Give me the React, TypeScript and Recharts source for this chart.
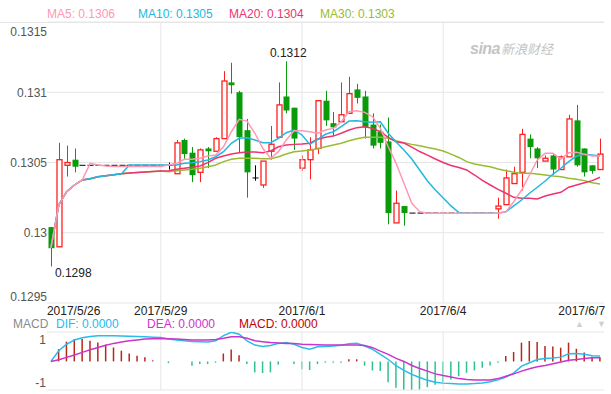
import { ComposedChart, Bar, Line, XAxis, YAxis, CartesianGrid, ReferenceLine, ReferenceDot, Cell } from 'recharts'

const FONT = '"Liberation Sans", Arial, sans-serif'
const GRID = '#e6e6e6'
const UP = '#ff1f1f'
const DOWN = '#0a9b0a'

// 4-hour candles, 2017/5/26 16:00 .. 2017/6/7 08:00
const opens = [
  0.13004, 0.1299, 0.13048, 0.13052, 0.13048, 0.13048, 0.13048, 0.13048, 0.13048, 0.13048,
  0.13048, 0.13048, 0.13048, 0.13048, 0.13048, 0.13048, 0.13042, 0.13066, 0.13057, 0.13043,
  0.1306, 0.13058, 0.13067, 0.13107, 0.131, 0.13073, 0.13039, 0.13034, 0.13058, 0.13068,
  0.13097, 0.13089, 0.13046, 0.13052, 0.1306, 0.13094, 0.13078, 0.13079, 0.13085, 0.13102,
  0.13097, 0.13077, 0.13072, 0.13065, 0.13007, 0.13019, 0.13014, 0.13014, 0.13014, 0.13014,
  0.13014, 0.13014, 0.13014, 0.13014, 0.13014, 0.13014, 0.13014, 0.13017, 0.1302, 0.13035,
  0.13043, 0.13067, 0.1306, 0.13051, 0.13055, 0.13045, 0.13054, 0.1308, 0.1306, 0.13048,
  0.13045,
]
const highs = [
  0.13004, 0.13064, 0.13062, 0.1306, 0.13048, 0.13048, 0.13048, 0.13048, 0.13048, 0.13048,
  0.13048, 0.13048, 0.13048, 0.13048, 0.13048, 0.1305, 0.13066, 0.13067, 0.13061, 0.1306,
  0.13061, 0.13068, 0.13115, 0.13121, 0.13101, 0.13081, 0.13048, 0.13051, 0.13076, 0.13107,
  0.13122, 0.13089, 0.13055, 0.13068, 0.13094, 0.13101, 0.13086, 0.13107, 0.13111, 0.13106,
  0.13101, 0.13085, 0.13077, 0.13082, 0.1303, 0.13019, 0.13014, 0.13014, 0.13014, 0.13014,
  0.13014, 0.13014, 0.13014, 0.13014, 0.13014, 0.13014, 0.13014, 0.13025, 0.13045, 0.13047,
  0.13074, 0.1307, 0.13061, 0.13055, 0.13056, 0.13055, 0.13084, 0.13091, 0.1306, 0.13048,
  0.13067,
]
const lows = [
  0.12976, 0.1299, 0.1304, 0.13043, 0.13048, 0.13048, 0.13048, 0.13048, 0.13048, 0.13048,
  0.13048, 0.13048, 0.13048, 0.13048, 0.13048, 0.13045, 0.13042, 0.13052, 0.13036, 0.13036,
  0.13046, 0.13058, 0.13067, 0.13099, 0.13057, 0.13025, 0.13037, 0.13032, 0.13052, 0.13068,
  0.13085, 0.13059, 0.13044, 0.13038, 0.13056, 0.13076, 0.13069, 0.13079, 0.13085, 0.13092,
  0.13067, 0.1306, 0.1306, 0.13006, 0.13007, 0.13005, 0.13014, 0.13014, 0.13014, 0.13014,
  0.13014, 0.13014, 0.13014, 0.13014, 0.13014, 0.13014, 0.13014, 0.1301, 0.1302, 0.13035,
  0.1303, 0.13053, 0.13046, 0.13051, 0.13041, 0.13045, 0.13054, 0.13047, 0.1304, 0.13042,
  0.13045,
]
const closes = [
  0.12989, 0.13052, 0.1305, 0.13047, 0.13048, 0.13048, 0.13048, 0.13048, 0.13048, 0.13048,
  0.13048, 0.13048, 0.13048, 0.13048, 0.13048, 0.13048, 0.13064, 0.13056, 0.13041, 0.13059,
  0.13058, 0.13067, 0.13108, 0.13105, 0.13068, 0.13043, 0.13039, 0.13051, 0.13063, 0.13091,
  0.13087, 0.13067, 0.13052, 0.13059, 0.13094, 0.1308, 0.13075, 0.13084, 0.13099, 0.13096,
  0.13075, 0.13062, 0.13064, 0.13014, 0.13021, 0.13014, 0.13014, 0.13014, 0.13014, 0.13014,
  0.13014, 0.13014, 0.13014, 0.13014, 0.13014, 0.13014, 0.13014, 0.13019, 0.13039, 0.13042,
  0.1307, 0.13061, 0.13053, 0.13053, 0.13045, 0.13054, 0.13081, 0.13048, 0.13043, 0.13044,
  0.13056,
]

const ma5 = [
  0.129892, 0.130198, 0.130292, 0.13034, 0.130376, 0.130494, 0.130482, 0.130475, 0.130472, 0.130472,
  0.130472, 0.130472, 0.130472, 0.130472, 0.130472, 0.130482, 0.130494, 0.130523, 0.130523, 0.13053,
  0.130546, 0.130553, 0.130612, 0.130719, 0.130807, 0.130795, 0.130708, 0.130601, 0.13053, 0.130577,
  0.13066, 0.130726, 0.130726, 0.130719, 0.130708, 0.130731, 0.130743, 0.13079, 0.130861, 0.130868,
  0.130857, 0.130826, 0.130743, 0.130612, 0.130494, 0.130352, 0.13021, 0.13015, 0.130139, 0.130139,
  0.130139, 0.130139, 0.130139, 0.130139, 0.130139, 0.130139, 0.130139, 0.130139, 0.13015, 0.130221,
  0.130304, 0.130411, 0.130518, 0.130565, 0.130565, 0.130523, 0.13057, 0.130573, 0.130558, 0.130546,
  0.130546,
]
const ma10 = [
  0.129892, 0.130198, 0.130292, 0.13034, 0.130376, 0.130385, 0.130399, 0.130406, 0.130413, 0.13042,
  0.130482, 0.130482, 0.130482, 0.130482, 0.130482, 0.130482, 0.130482, 0.130494, 0.130499, 0.130506,
  0.130518, 0.130541, 0.130577, 0.130637, 0.130672, 0.130676, 0.13066, 0.130641, 0.130641, 0.130672,
  0.130712, 0.130731, 0.130696, 0.130629, 0.130665, 0.130701, 0.130719, 0.130755, 0.130795, 0.130797,
  0.13079, 0.130786, 0.13079, 0.130708, 0.130646, 0.130589, 0.130525, 0.130447, 0.130368, 0.130304,
  0.130248, 0.130191, 0.130144, 0.130139, 0.130139, 0.130139, 0.130139, 0.130139, 0.13015, 0.130191,
  0.130233, 0.130281, 0.130324, 0.130368, 0.130418, 0.130459, 0.130506, 0.130546, 0.130558, 0.130553,
  0.130546,
]
const ma20 = [
  0.129892, 0.130198, 0.130292, 0.13034, 0.130376, 0.130385, 0.130399, 0.130406, 0.130413, 0.13042,
  0.130425, 0.130429, 0.130432, 0.130436, 0.13044, 0.130442, 0.130452, 0.130459, 0.130466, 0.130475,
  0.130499, 0.13053, 0.130546, 0.13056, 0.13057, 0.130575, 0.130575, 0.13057, 0.130582, 0.130612,
  0.130624, 0.130629, 0.130632, 0.130637, 0.130665, 0.130679, 0.130688, 0.130708, 0.130731, 0.130748,
  0.130755, 0.130743, 0.130719, 0.130679, 0.130648, 0.130639, 0.13061, 0.130578, 0.130553, 0.130525,
  0.1305, 0.130479, 0.130464, 0.130447, 0.130411, 0.130372, 0.13034, 0.130309, 0.130281, 0.130252,
  0.130245, 0.130245, 0.13024, 0.130262, 0.130276, 0.130288, 0.130324, 0.13034, 0.130356, 0.130371,
  0.130395,
]
const ma30 = [
  0.129892, 0.130198, 0.130292, 0.13034, 0.130376, 0.130385, 0.130399, 0.130406, 0.130413, 0.13042,
  0.130425, 0.130429, 0.130432, 0.130436, 0.13044, 0.130435, 0.130442, 0.130447, 0.130452, 0.130459,
  0.13047, 0.130482, 0.130506, 0.130523, 0.13053, 0.13053, 0.13053, 0.130527, 0.130527, 0.130541,
  0.13056, 0.130577, 0.130582, 0.130589, 0.130598, 0.130612, 0.130624, 0.130637, 0.130655, 0.130669,
  0.130679, 0.130679, 0.130679, 0.130672, 0.130655, 0.130641, 0.130629, 0.130619, 0.130607, 0.130596,
  0.130582, 0.13056, 0.130536, 0.130506, 0.130489, 0.130479, 0.13047, 0.130454, 0.130442, 0.13043,
  0.130423, 0.130423, 0.130418, 0.130411, 0.130404, 0.130399, 0.130388, 0.130381, 0.130371, 0.130356,
  0.130347,
]

const dif = [
  0, 0.5, 0.8, 1.0, 1.1, 1.16, 1.19, 1.19, 1.19, 1.18,
  1.17, 1.16, 1.15, 1.13, 1.11, 1.04, 1.0, 0.96, 0.93, 0.92,
  0.91, 0.96, 1.2, 1.36, 1.27, 0.96, 0.76, 0.7, 0.74, 0.84,
  0.88, 0.8, 0.65, 0.57, 0.68, 0.7, 0.72, 0.75, 0.82, 0.85,
  0.72, 0.56, 0.33, 0.09, -0.2, -0.42, -0.6, -0.75, -0.88, -0.97,
  -1.01, -1.03, -1.05, -1.05, -1.03, -1.0, -0.95, -0.86, -0.73, -0.53,
  -0.22, -0.06, 0.09, 0.14, 0.16, 0.2, 0.36, 0.37, 0.33, 0.26,
  0.25,
]
const dea = [
  0, 0.08, 0.19, 0.3, 0.42, 0.54, 0.65, 0.75, 0.84, 0.9,
  0.96, 1.0, 1.04, 1.06, 1.07, 1.06, 1.04, 1.02, 1.0, 1.0,
  1.0, 1.02, 1.08, 1.15, 1.15, 1.08, 0.96, 0.92, 0.88, 0.86,
  0.84, 0.83, 0.8, 0.79, 0.78, 0.76, 0.76, 0.76, 0.77, 0.77,
  0.74, 0.64, 0.48, 0.33, 0.14, 0, -0.19, -0.33, -0.45, -0.58,
  -0.66, -0.73, -0.8, -0.84, -0.87, -0.87, -0.86, -0.8, -0.69, -0.58,
  -0.45, -0.34, -0.25, -0.19, -0.11, -0.03, 0.05, 0.09, 0.14, 0.17,
  0.17,
]
const macdHist = [
  0, 0.57, 0.92, 1.04, 1.04, 0.96, 0.88, 0.78, 0.65, 0.5,
  0.37, 0.26, 0.19, 0.05, 0, -0.08, 0, 0, -0.2, -0.12,
  -0.12, -0.06, 0.37, 0.56, 0.29, -0.12, -0.51, -0.54, -0.51, -0.15,
  0, -0.12, -0.36, -0.4, -0.12, -0.06, -0.06, -0.06, 0.1, 0.1,
  -0.2, -0.42, -0.45, -0.97, -1.23, -1.39, -1.39, -1.31, -1.2, -1.08,
  -0.97, -0.84, -0.69, -0.53, -0.42, -0.3, -0.19, -0.06, 0.25, 0.44,
  0.875, 0.95, 0.9, 0.72, 0.69, 0.64, 0.875, 0.59, 0.41, 0.22,
  0.2,
]

const dateTickIdx = [0, 14, 32, 50, 70]
const dateLabels = ['2017/5/26', '2017/5/29', '2017/6/1', '2017/6/4', '2017/6/7']
const gridIdx = [14, 32, 50]
const priceTicks = [0.1295, 0.13, 0.1305, 0.131, 0.1315]
const macdTicks = [-1, 1]
const macdDomain = [-1.33, 1.37]

const rows = closes.map((c, i) => ({
  idx: i,
  open: opens[i],
  high: highs[i],
  low: lows[i],
  close: c,
  range: [lows[i], highs[i]],
  ma5: ma5[i],
  ma10: ma10[i],
  ma20: ma20[i],
  ma30: ma30[i],
}))

const macdRows = macdHist.map((h, i) => ({ idx: i, hist: h, dif: dif[i], dea: dea[i] }))

const hiIdx = highs.indexOf(Math.max(...highs))
const loIdx = lows.indexOf(Math.min(...lows))

function Candle(props: any) {
  const { x, y, width, height, payload } = props
  if (!payload || payload.open == null) return null
  const { open, close, high, low } = payload
  const cx = Math.round(x + width / 2) + 0.5
  const top = Math.min(y, y + height)
  const h = Math.abs(height)
  const span = high - low
  const py = (v: number) => (span > 0 ? top + ((high - v) / span) * h : top)
  if (span === 0) {
    return <line x1={cx - 3} x2={cx + 3} y1={top} y2={top} stroke="#000" strokeWidth={1} />
  }
  const yo = py(open)
  const yc = py(close)
  if (close > open) {
    return (
      <g>
        <line x1={cx} x2={cx} y1={top} y2={top + h} stroke={UP} strokeWidth={1} />
        <rect x={cx - 2.5} y={yc} width={5} height={Math.max(yo - yc, 1)} fill="#fff" stroke={UP} strokeWidth={1.3} />
      </g>
    )
  }
  if (close < open) {
    return (
      <g>
        <line x1={cx} x2={cx} y1={top} y2={top + h} stroke={DOWN} strokeWidth={1} />
        <rect x={cx - 3} y={yo} width={6} height={Math.max(yc - yo, 1)} fill={DOWN} />
      </g>
    )
  }
  return (
    <g>
      <line x1={cx} x2={cx} y1={top} y2={top + h} stroke="#000" strokeWidth={1} />
      <line x1={cx - 3} x2={cx + 3} y1={yo} y2={yo} stroke="#000" strokeWidth={1} />
    </g>
  )
}

function DateTick(props: any) {
  const { x, y, payload } = props
  const k = dateTickIdx.indexOf(payload.value)
  if (k < 0) return null
  const last = dateTickIdx.length - 1
  const anchor = k === 0 ? 'start' : k === last ? 'end' : 'middle'
  const dx = k === 0 ? -4 : k === last ? 5 : 0
  return (
    <text x={x + dx} y={y + 12} textAnchor={anchor} fill="#222" fontSize={12} fontFamily={FONT}>
      {dateLabels[k]}
    </text>
  )
}

function PriceTick(props: any) {
  const { x, y, payload } = props
  const v = payload.value
  let dy = 4.5
  if (v === priceTicks[priceTicks.length - 1]) dy = 13.5
  if (v === priceTicks[0]) dy = -2.5
  return (
    <text x={x} y={y + dy} textAnchor="end" fill="#555" fontSize={12} fontFamily={FONT}>
      {String(v)}
    </text>
  )
}

function MacdTick(props: any) {
  const { x, y, payload } = props
  return (
    <text x={x - 1} y={y + 4.5} textAnchor="end" fill="#555" fontSize={12} fontFamily={FONT}>
      {String(payload.value)}
    </text>
  )
}

const legendItems = [
  { text: 'MA5: 0.1306', color: '#ff98b4', left: 47 },
  { text: 'MA10: 0.1305', color: '#22b8e0', left: 138 },
  { text: 'MA20: 0.1304', color: '#ee3370', left: 229 },
  { text: 'MA30: 0.1303', color: '#99bb33', left: 320 },
]

const macdLegend = [
  { text: 'MACD', color: '#8a8a8a', left: 13 },
  { text: 'DIF: 0.0000', color: '#22bbee', left: 56 },
  { text: 'DEA: 0.0000', color: '#cc33cc', left: 147 },
  { text: 'MACD: 0.0000', color: '#c00000', left: 239 },
]

const span = (left: number, top: number, lh = 14): React.CSSProperties => ({
  position: 'absolute',
  left,
  top,
  lineHeight: `${lh}px`,
  whiteSpace: 'nowrap',
})

export default function App() {
  return (
    <div
      style={{
        position: 'absolute',
        left: 0,
        top: 0,
        width: 611,
        height: 394,
        background: '#fff',
        fontFamily: FONT,
        fontSize: 12,
        overflow: 'hidden',
      }}
    >
      <div style={{ position: 'absolute', left: 0, top: 22, width: 604, height: 1, background: GRID }} />

      <div style={{ position: 'absolute', left: 0, top: 0 }}>
        <ComposedChart width={611} height={321} data={rows} margin={{ top: 22, right: 7, bottom: 0, left: 0 }}>
          <CartesianGrid vertical={false} stroke={GRID} />
          <XAxis
            dataKey="idx"
            type="category"
            ticks={dateTickIdx}
            interval={0}
            tick={<DateTick />}
            tickLine={false}
            axisLine={false}
            tickSize={0}
            tickMargin={0}
            height={18}
          />
          <YAxis
            domain={[0.1295, 0.1315]}
            ticks={priceTicks}
            allowDataOverflow
            width={47}
            tick={<PriceTick />}
            tickLine={false}
            axisLine={false}
            tickSize={0}
            tickMargin={0}
          />
          {gridIdx.map((v) => (
            <ReferenceLine key={v} x={v} stroke={GRID} />
          ))}
          <Bar dataKey="range" shape={<Candle />} barSize={6} isAnimationActive={false} />
          <Line dataKey="ma30" stroke="#99bb33" strokeWidth={1.5} dot={false} activeDot={false} isAnimationActive={false} />
          <Line dataKey="ma20" stroke="#ee3370" strokeWidth={1.5} dot={false} activeDot={false} isAnimationActive={false} />
          <Line dataKey="ma10" stroke="#22b8e0" strokeWidth={1.5} dot={false} activeDot={false} isAnimationActive={false} />
          <Line dataKey="ma5" stroke="#ff98b4" strokeWidth={1.5} dot={false} activeDot={false} isAnimationActive={false} />
          <ReferenceDot
            x={hiIdx}
            y={highs[hiIdx]}
            r={0}
            shape={(p: any) => (
              <text x={p.cx + 2} y={p.cy - 4} textAnchor="middle" fill="#222" fontSize={12} fontFamily={FONT}>
                {highs[hiIdx].toFixed(4)}
              </text>
            )}
          />
          <ReferenceDot
            x={loIdx}
            y={lows[loIdx]}
            r={0}
            shape={(p: any) => (
              <text x={p.cx + 4} y={p.cy + 11} textAnchor="start" fill="#222" fontSize={12} fontFamily={FONT}>
                {lows[loIdx].toFixed(4)}
              </text>
            )}
          />
        </ComposedChart>
      </div>

      <div style={{ position: 'absolute', left: 0, top: 321 }}>
        <ComposedChart width={611} height={73} data={macdRows} margin={{ top: 11, right: 7, bottom: 4, left: 0 }}>
          <XAxis dataKey="idx" type="category" hide />
          <YAxis
            domain={macdDomain}
            ticks={macdTicks}
            allowDataOverflow
            width={47}
            tick={<MacdTick />}
            tickLine={false}
            axisLine={false}
            tickSize={0}
            tickMargin={0}
          />
          <ReferenceLine y={macdDomain[1]} stroke={GRID} />
          <ReferenceLine y={macdDomain[0]} stroke={GRID} />
          {gridIdx.map((v) => (
            <ReferenceLine key={v} x={v} stroke={GRID} />
          ))}
          <Bar dataKey="hist" barSize={1.5} isAnimationActive={false}>
            {macdHist.map((v, i) => (
              <Cell key={i} fill={v >= 0 ? '#b8261c' : '#2ec28e'} />
            ))}
          </Bar>
          <Line dataKey="dif" stroke="#26bdea" strokeWidth={1.5} dot={false} activeDot={false} isAnimationActive={false} />
          <Line dataKey="dea" stroke="#cc33cc" strokeWidth={1.5} dot={false} activeDot={false} isAnimationActive={false} />
        </ComposedChart>
      </div>

      {legendItems.map((l) => (
        <span key={l.text} style={{ ...span(l.left, 7), color: l.color }}>
          {l.text}
        </span>
      ))}

      <div style={{ ...span(470, 41, 16), color: '#c4c4c4', fontStyle: 'italic' }}>
        <span style={{ fontSize: 16, fontWeight: 'bold', letterSpacing: -0.5 }}>sina</span>
        <span style={{ fontSize: 13, fontFamily: '"Noto Sans CJK SC", sans-serif', marginLeft: 1 }}>新浪财经</span>
      </div>

      {macdLegend.map((l) => (
        <span key={l.text} style={{ ...span(l.left, 318, 12), color: l.color }}>
          {l.text}
        </span>
      ))}
      <span style={{ ...span(575, 319, 10), color: '#cfcfcf', fontSize: 9 }}>▲</span>
      <span style={{ ...span(597, 319, 10), color: '#cfcfcf', fontSize: 9 }}>▼</span>
    </div>
  )
}
